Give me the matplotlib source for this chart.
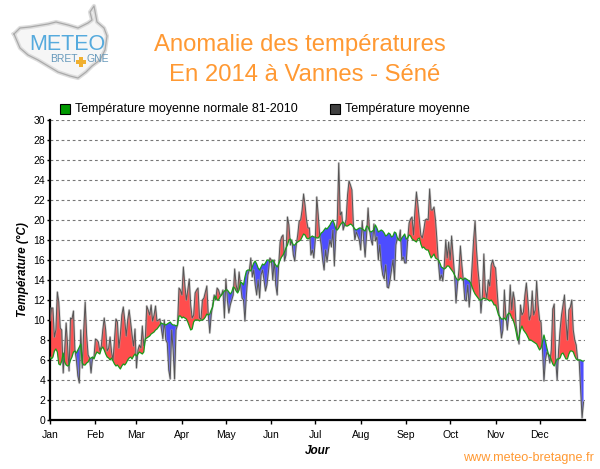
import numpy as np
import matplotlib
matplotlib.use('Agg')
import matplotlib.pyplot as plt

plt.rcParams['font.family'] = ['Liberation Sans', 'DejaVu Sans']

# Month labels and lengths
months = ['Jan', 'Feb', 'Mar', 'Apr', 'May', 'Jun', 'Jul', 'Aug', 'Sep', 'Oct', 'Nov', 'Dec']
month_days = [31, 28, 31, 30, 31, 30, 31, 31, 30, 31, 30, 31]

# Daily mean temperature
mean_jan = [10, 11.2, 11.2, 8.3, 9, 12.8, 11.8, 9.2, 9, 4.7, 7, 9.7, 7.5, 4.9, 10.2, 10.1, 10.9, 7, 6, 4.4, 3.7, 9, 5.2, 9, 11.8, 8.5, 6.5, 6.2, 4.7, 6.2, 6.3]
mean_feb = [8.1, 8, 7.8, 6.9, 7.4, 9, 10.2, 9, 6.9, 7.2, 8.3, 6.8, 6, 8, 10.1, 9.8, 7.2, 8.5, 10.5, 11.3, 10, 8.4, 10, 11, 9.8, 8.5, 7.4, 9.1]
mean_mar = [5.2, 7, 7.5, 7.2, 9.4, 7.4, 8, 11.4, 11, 10.5, 11.5, 9.9, 10.5, 11.4, 9.9, 10, 10.1, 9.1, 8.1, 10, 8, 7.7, 5, 4.1, 9, 7, 4.1, 9, 9.5, 13.2, 13]
mean_apr = [12.5, 15.3, 13.5, 12, 13, 14.1, 11.5, 10.2, 10.5, 12.7, 13, 13.2, 10.2, 10.1, 12, 12.2, 12.8, 13.4, 10.5, 8.7, 10.5, 11.5, 12.5, 12, 13.2, 13, 12.5, 12.5, 13, 10.2]
mean_may = [14.1, 12, 10.7, 11.5, 12, 12.5, 15.1, 13.5, 12.8, 14.8, 13.5, 12.2, 12, 9.9, 12.5, 14.5, 15, 16.2, 14.3, 15, 13.5, 12.5, 14, 12.2, 14.5, 15, 14, 12.9, 13.5, 14.8, 16.2]
mean_jun = [16, 14, 16, 13.5, 12.5, 15.5, 17.8, 18.3, 18.5, 15.9, 16.5, 20.3, 19.5, 17.5, 18, 16.5, 15.9, 17.5, 18.5, 19.9, 20, 21, 22.6, 21.5, 20, 19.2, 19.2, 16.5, 17, 16.2]
mean_jul = [18, 22.3, 20.5, 18.5, 17.5, 16, 15, 17, 15.8, 17, 18, 17.3, 19, 15.4, 18.5, 20, 25.7, 20.5, 20.8, 19, 19.5, 20, 22.5, 23.9, 23.5, 23, 19.5, 18, 18.8, 18.4, 18]
mean_aug = [17, 19.9, 18, 16.3, 18.5, 21.2, 19, 18, 17.5, 19.6, 17.9, 18.3, 16, 17.5, 15.5, 14.5, 14.1, 15.5, 13.3, 13.2, 14, 15, 16, 14, 17.5, 18.2, 18, 19, 16, 16.3, 15.7]
mean_sep = [15.7, 18, 19.7, 20.1, 20.3, 18.5, 21, 22.8, 21.5, 20, 18.5, 18.2, 19, 20, 20.1, 20, 23.1, 21, 21, 21.3, 20, 18, 15.7, 14, 14.5, 13.9, 15.5, 18, 16.2, 17.8]
mean_oct = [16, 18.4, 16.5, 14.5, 11.7, 13.5, 15, 17.4, 15.5, 14, 12, 11.9, 13.5, 11.3, 13, 15.5, 18, 19.9, 17, 15, 13.5, 10.7, 12.5, 16.6, 13, 12.2, 14, 13.4, 15.5, 16, 15.4]
mean_nov = [15.2, 13, 11, 9.8, 8.2, 9, 13, 10.5, 9, 10.5, 13.5, 11, 12.8, 12, 9.5, 8.5, 7.6, 11.5, 10.5, 10.8, 12.5, 13.7, 12, 10, 10.5, 12.9, 10.5, 11, 13.9, 11.5]
mean_dec = [10, 9.8, 7, 3.9, 6, 6.8, 6.5, 5.7, 7, 11.1, 11.6, 6, 4, 7, 9, 10.5, 11.5, 12.5, 10, 8, 11, 11.3, 12, 9, 8, 7.5, 6, 6, 3, 0.2, 1.8]

# Daily 1981-2010 normal
norm_jan = [6.3, 6.1, 6.3, 6.9, 7.1, 6.8, 5.6, 5.5, 5.9, 6.7, 5.8, 5.5, 5.4, 5.5, 6, 6.3, 6.8, 6.9, 6.7, 7, 7.3, 7.6, 5.7, 5.5, 5.5, 5.7, 5.8, 6.1, 6.2, 6.3, 6.1]
norm_feb = [6.5, 6.8, 6.7, 6.6, 7.1, 7.3, 7, 6.6, 6.3, 6.2, 6, 6.2, 5.9, 5.6, 5.4, 5.5, 5.3, 5.1, 5.4, 5.6, 5.5, 5.7, 6, 6.2, 6.3, 6.1, 6.4, 6.6]
norm_mar = [6.4, 6.6, 6.8, 6.7, 6.6, 6.8, 8.1, 8.2, 8.3, 8.4, 8.6, 8.7, 8.8, 9, 9.1, 9.3, 9.5, 9.7, 9.6, 9.6, 9.5, 9.6, 9.7, 9.8, 9.6, 9.5, 9.5, 9.4, 9.5, 10.4, 10.4]
norm_apr = [10.2, 10.3, 10.2, 10.1, 9.8, 9.4, 9, 9.1, 9.8, 10, 10, 10, 9.9, 10, 10, 10.1, 10.3, 10.6, 10.5, 10.6, 11, 11.3, 12.2, 12.4, 12, 12, 12.3, 12.5, 12.7, 12.9]
norm_may = [13, 13, 12.8, 12.6, 12.8, 13.3, 13.2, 12.9, 12.7, 13, 13.8, 13.7, 13.5, 14.3, 14.9, 15, 15, 14.9, 15.3, 15.7, 15.9, 15.6, 15.2, 15, 15.3, 15.6, 15.5, 15.7, 16, 16, 15.8]
norm_jun = [15.8, 16, 15.7, 15.5, 15.3, 15.6, 16, 16.3, 16.5, 16.8, 17.2, 17.5, 18, 18.1, 17.8, 17.5, 17.5, 17.7, 17.8, 17.9, 18, 18.3, 18.6, 18.5, 18.2, 18.1, 18.2, 18.3, 18.4, 18.3]
norm_jul = [18.3, 18.2, 18.2, 18.4, 18.7, 18.8, 19, 19.2, 19.1, 19.3, 19.5, 19.8, 20, 19.6, 19.1, 19, 19.2, 19.5, 19.7, 19.8, 19.6, 19.4, 19.4, 19.5, 19.6, 19.5, 19.3, 19.1, 19, 19.1, 19.2]
norm_aug = [19.2, 19.1, 19, 18.9, 19.4, 19.3, 18.9, 18.8, 18.9, 19, 19.5, 19.2, 18.8, 18.9, 19, 18.9, 18.7, 18.4, 18.5, 18.7, 18.6, 18.3, 18.4, 18.8, 18.7, 18.2, 18, 17.9, 18.2, 18.4, 18.6]
norm_sep = [18.1, 18.2, 18.5, 18.4, 18.1, 18, 17.9, 17.8, 18.1, 18.2, 17.6, 17.2, 17.3, 17.1, 17, 17, 16.6, 16.2, 16.4, 16.6, 16.2, 16.1, 16, 15.7, 15.3, 15.2, 15.1, 15.2, 15.4, 15.4]
norm_oct = [15.2, 15, 14.8, 14.5, 14.2, 14, 14, 14.2, 14.1, 14, 14.2, 14.1, 14, 13.9, 13.7, 13.3, 12.9, 12.6, 12.4, 12.2, 12, 12, 12.1, 12.2, 12.1, 12.1, 12, 11.9, 12, 11.8, 11.5]
norm_nov = [11.5, 11, 10.5, 10.3, 10.1, 10.1, 10.2, 10, 10.5, 10.7, 10.6, 10.2, 10, 9.5, 8.8, 8, 8.3, 9, 9.4, 9, 8.8, 8.6, 8.3, 8, 8, 7.9, 7.8, 7.7, 7.6, 7.3]
norm_dec = [7, 7.2, 7.8, 8.5, 7.9, 7.2, 6.6, 6.4, 6, 5.6, 5.4, 5.8, 6.1, 6.1, 6.2, 6.6, 6.7, 6.4, 6.1, 6.1, 6.6, 6.9, 6.9, 6.8, 6.4, 6.1, 6, 6, 6, 5.9, 5.9]

mean_t = np.array(mean_jan + mean_feb + mean_mar + mean_apr + mean_may + mean_jun + mean_jul + mean_aug + mean_sep + mean_oct + mean_nov + mean_dec)
norm_t = np.array(norm_jan + norm_feb + norm_mar + norm_apr + norm_may + norm_jun + norm_jul + norm_aug + norm_sep + norm_oct + norm_nov + norm_dec)
days = np.arange(len(mean_t))

fig = plt.figure(figsize=(6, 4.69), dpi=100)
ax = fig.add_axes([50 / 600, 1 - 420 / 469, 535 / 600, 300 / 469])

# Red above the normal, blue below
ax.fill_between(days, mean_t, norm_t, where=mean_t >= norm_t, interpolate=True, color='#ff4d4d', lw=0, zorder=2)
ax.fill_between(days, mean_t, norm_t, where=mean_t <= norm_t, interpolate=True, color='#4d4dff', lw=0, zorder=2)
ax.plot(days, mean_t, color='#aaaaaa', lw=1.7, alpha=0.5, zorder=3)
ax.plot(days, mean_t, color='#555555', lw=0.7, zorder=4)
ax.plot(days, norm_t, color='#1a9a1a', lw=0.9, zorder=5)

ax.set_xlim(0, 365)
ax.set_ylim(0, 30)
ax.set_yticks(range(0, 31, 2))
ax.set_xticks(np.cumsum([0] + month_days[:-1]))
ax.set_xticklabels(months)
ax.tick_params(labelsize=7.5, length=3, width=1, colors='black')
ax.tick_params(axis='x', pad=4)
ax.tick_params(axis='y', length=2, pad=1.5)
ax.grid(axis='y', color='#777777', ls=(0, (2.5, 2.5)), lw=0.8, zorder=1)
ax.set_axisbelow(True)
for side in ['top', 'right']:
    ax.spines[side].set_visible(False)
for side in ['left', 'bottom']:
    ax.spines[side].set_linewidth(1.6)
ax.set_ylabel('Température (°C)', fontsize=8.5, fontweight='bold', style='italic', labelpad=3)
ax.set_xlabel('Jour', fontsize=8.5, fontweight='bold', style='italic', labelpad=4)

# Overlay in pixel coordinates for title, legend, logo
ov = fig.add_axes([0, 0, 1, 1], facecolor='none')
ov.set_xlim(0, 600)
ov.set_ylim(469, 0)
ov.axis('off')

ov.text(300, 45, 'Anomalie des températures', color='#ff9933', fontsize=17.2, ha='center', va='center')
ov.text(304.5, 75, 'En 2014 à Vannes - Séné', color='#ff9933', fontsize=17.2, ha='center', va='center')
ov.text(594, 458, 'www.meteo-bretagne.fr', color='#ff9933', fontsize=9.1, ha='right', va='center')

ov.plot([65], [109], marker='s', ms=6.8, mfc='#009900', mec='black', mew=0.8)
ov.text(75, 109, 'Température moyenne normale 81-2010', fontsize=9, va='center')
ov.plot([335], [109], marker='s', ms=6.8, mfc='#404040', mec='black', mew=0.8)
ov.text(345, 109, 'Température moyenne', fontsize=9, va='center')

# Logo
outline_x = [14, 20, 30, 48, 56, 68, 78, 88, 92, 90, 94, 97, 104, 107, 105, 100, 92, 86, 78, 70, 58, 48, 38, 28, 20, 14]
outline_y = [34, 28, 27, 24, 22, 25, 28, 23, 20, 12, 6, 22, 28, 36, 50, 60, 66, 72, 78, 76, 72, 66, 60, 55, 48, 34]
ov.fill(outline_x, outline_y, color='#f6f6f6', lw=0)
ov.plot(outline_x, outline_y, color='#dddddd', lw=3)
ov.plot(outline_x, outline_y, color='#aaaaaa', lw=0.9)
ov.text(67, 44, 'METEO', color='#55aadd', fontsize=15.5, ha='center', va='center')
ov.text(64, 59.5, 'BRET', color='#6699bb', fontsize=7.5, ha='center', va='center')
ov.text(98, 59.5, 'GNE', color='#6699bb', fontsize=7.5, ha='center', va='center')
ov.plot([81], [62], marker='P', ms=7, color='#f0b030', mew=0)

fig.savefig('out.png', dpi=100)
